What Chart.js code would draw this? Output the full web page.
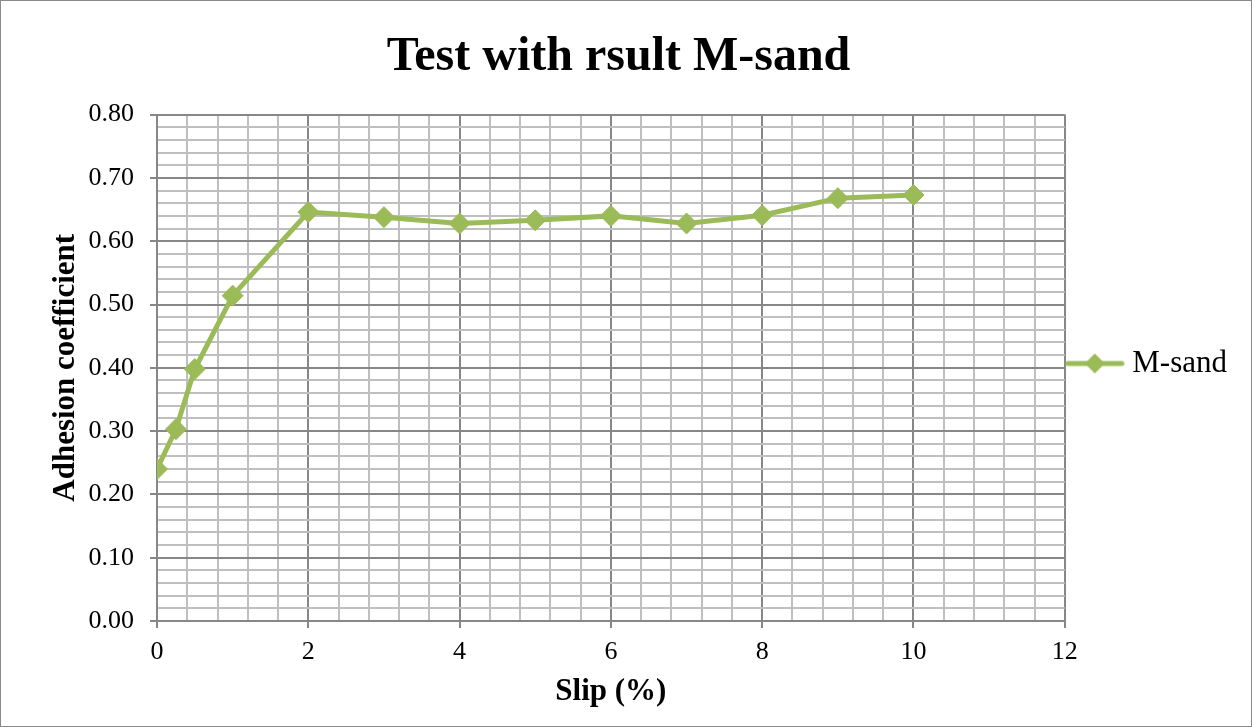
<!DOCTYPE html>
<html>
<head>
<meta charset="utf-8">
<title>Test with rsult M-sand</title>
<script src="https://cdn.jsdelivr.net/npm/chart.js@4.4.1/dist/chart.umd.min.js"></script>
<style>
    body { margin: 0; background: #fff; }
    #wrap { width: 1252px; height: 727px; }
</style>
</head>
<body>
<div id="wrap"><canvas id="myChart" width="1252" height="727"></canvas></div>
<script>
// datos
const slip = [0, 0.25, 0.5, 1, 2, 3, 4, 5, 6, 7, 8, 9, 10];
const adhesion = [0.240, 0.303, 0.398, 0.514, 0.646, 0.638, 0.628, 0.633, 0.640, 0.628, 0.641, 0.668, 0.673];
const xTicks = [0, 2, 4, 6, 8, 10, 12];
const yTicks = [0.0, 0.1, 0.2, 0.3, 0.4, 0.5, 0.6, 0.7, 0.8];

const green = '#9bbb59';
const serif = '"Liberation Serif", "Times New Roman", serif';

const isMajor = (v, list) => list.some(t => Math.abs(t - v) < 1e-6);

// marcador de la leyenda: linea + rombo
const legendMark = document.createElement('canvas');
legendMark.width = 60;
legendMark.height = 24;
(function () {
    const c = legendMark.getContext('2d');
    c.strokeStyle = green;
    c.lineWidth = 5;
    c.lineCap = 'round';
    c.beginPath();
    c.moveTo(3, 12);
    c.lineTo(57, 12);
    c.stroke();
    c.fillStyle = green;
    c.beginPath();
    c.moveTo(30, 2);
    c.lineTo(40, 12);
    c.lineTo(30, 22);
    c.lineTo(20, 12);
    c.closePath();
    c.fill();
})();

const frame = {
    id: 'frame',
    beforeDraw(chart) {
        const c = chart.ctx;
        c.save();
        c.fillStyle = '#fff';
        c.fillRect(0, 0, chart.width, chart.height);
        c.restore();
    },
    afterDraw(chart) {
        const c = chart.ctx;
        c.save();
        c.strokeStyle = '#8a8a8a';
        c.lineWidth = 1;
        c.strokeRect(0.5, 0.5, chart.width - 1, chart.height - 1);
        c.restore();
    }
};

const ctx = document.getElementById('myChart').getContext('2d');

new Chart(ctx, {
    type: 'line',
    data: {
        datasets: [{
            label: 'M-sand',
            data: slip.map((x, i) => ({ x: x, y: adhesion[i] })),
            borderColor: green,
            backgroundColor: green,
            borderWidth: 5,
            tension: 0,
            pointStyle: 'rectRot',
            pointRadius: 10.5,
            pointBorderWidth: 1,
            pointBackgroundColor: green,
            pointBorderColor: green
        }]
    },
    options: {
        responsive: false,
        animation: false,
        layout: { padding: { top: 0, right: 15, bottom: 0, left: 0 } },
        scales: {
            x: {
                type: 'linear',
                min: 0,
                max: 12,
                afterFit: s => { s.height = 106; },
                border: { color: '#878787', width: 2 },
                grid: {
                    color: c => isMajor(c.tick.value, xTicks) ? '#878787' : '#bfbfbf',
                    tickColor: c => isMajor(c.tick.value, xTicks) ? '#878787' : 'rgba(0,0,0,0)',
                    lineWidth: 2,
                    tickLength: 7
                },
                ticks: {
                    stepSize: 0.4,
                    autoSkip: false,
                    maxRotation: 0,
                    padding: 9,
                    color: '#000',
                    font: { family: serif, size: 26 },
                    callback: v => isMajor(v, xTicks) ? String(Math.round(v)) : ''
                },
                title: {
                    display: true,
                    text: 'Slip (%)',
                    color: '#000',
                    font: { family: serif, size: 31, weight: 'bold' },
                    padding: { top: 0, bottom: 16 }
                }
            },
            y: {
                min: 0,
                max: 0.8,
                afterFit: s => { s.width = 157; },
                border: { color: '#878787', width: 2 },
                grid: {
                    color: c => isMajor(c.tick.value, yTicks) ? '#878787' : '#bfbfbf',
                    tickColor: c => isMajor(c.tick.value, yTicks) ? '#878787' : 'rgba(0,0,0,0)',
                    lineWidth: 2,
                    tickLength: 7
                },
                ticks: {
                    stepSize: 0.02,
                    autoSkip: false,
                    padding: 16,
                    color: '#000',
                    font: { family: serif, size: 26 },
                    callback: v => isMajor(v, yTicks) ? v.toFixed(2) : ''
                },
                title: {
                    display: true,
                    text: 'Adhesion coefficient',
                    color: '#000',
                    font: { family: serif, size: 31, weight: 'bold' },
                    padding: { top: 47, bottom: 0 }
                }
            }
        },
        plugins: {
            title: {
                display: true,
                text: 'Test with rsult M-sand',
                color: '#000',
                font: { family: serif, size: 48, weight: 'bold' },
                padding: { top: 29, bottom: 28 }
            },
            legend: {
                position: 'right',
                labels: {
                    usePointStyle: true,
                    pointStyle: legendMark,
                    pointStyleWidth: 44,
                    boxHeight: 24,
                    padding: 8,
                    color: '#000',
                    font: { family: serif, size: 31 }
                }
            },
            tooltip: { enabled: false }
        }
    },
    plugins: [frame]
});
</script>
</body>
</html>
